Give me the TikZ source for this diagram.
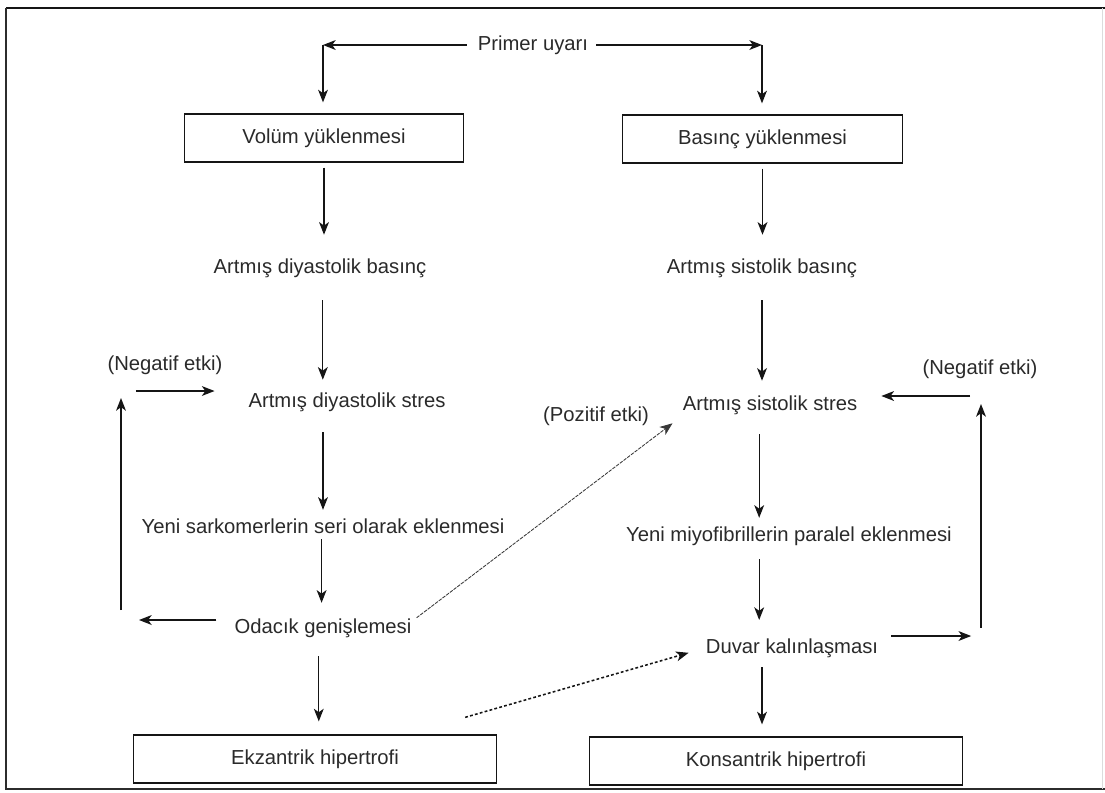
\documentclass[tikz,border=0pt]{standalone}
\usepackage{fontspec}
\setmainfont{Liberation Sans}
\usetikzlibrary{arrows.meta}
\definecolor{txt}{HTML}{2A2A2A}
\definecolor{ln}{HTML}{151515}
\begin{document}
\begin{tikzpicture}[x=0.025cm,y=-0.025cm,
  lbl/.style={inner sep=0pt, text height=10.5pt, text depth=3pt, text=txt,
    font=\fontsize{14.4}{17}\selectfont},
  boxnode/.style={lbl, draw=ln, line width=1.1pt, minimum height=34pt},
  arr/.style={draw=ln, line width=0.9pt,
    -{Stealth[length=9pt,width=7pt,inset=2.5pt]}},
  plainln/.style={draw=ln, line width=0.9pt},
  posarr/.style={draw=ln!85, line width=0.6pt, dash pattern=on 2.5pt off 0.8pt,
    -{Stealth[length=9pt,width=7pt,inset=2.5pt]}},
  dotarr/.style={draw=ln, line width=1.1pt, dash pattern=on 2pt off 1.6pt,
    -{Stealth[length=9pt,width=7pt,inset=2.5pt]}}
]
% page and frame
\fill[white] (0,0) rectangle (1105,792);
\useasboundingbox (0,0) rectangle (1105,792);
\draw[ln, line width=2pt] (6,8) -- (1105,8);
\draw[ln!90, line width=1.3pt] (6,8) -- (6,789) -- (1105,789);
\draw[ln!15, line width=0.5pt] (1102,8) -- (1102,789);

% nodes
\node[lbl] (prim) at (533,45) {Primer uyarı};
\node[boxnode, minimum width=198.4pt] (vol) at (324,138) {Volüm yüklenmesi};
\node[boxnode, minimum width=199.1pt] (bas) at (762.5,139) {Basınç yüklenmesi};
\node[lbl] (adb) at (320,268) {Artmış diyastolik basınç};
\node[lbl] (asb) at (762,268) {Artmış sistolik basınç};
\node[lbl] (ads) at (347,402) {Artmış diyastolik stres};
\node[lbl] (ass) at (770,405) {Artmış sistolik stres};
\node[lbl] (negL) at (165,365) {(Negatif etki)};
\node[lbl] (negR) at (980,369) {(Negatif etki)};
\node[lbl] (poz) at (596,416) {(Pozitif etki)};
\node[lbl] (yeniL) at (323,528) {Yeni sarkomerlerin seri olarak eklenmesi};
\node[lbl] (yeniR) at (789,536) {Yeni miyofibrillerin paralel eklenmesi};
\node[lbl] (oda) at (323,628) {Odacık genişlemesi};
\node[lbl] (duv) at (792,648) {Duvar kalınlaşması};
\node[boxnode, minimum width=258pt] (ekz) at (315,759) {Ekzantrik hipertrofi};
\node[boxnode, minimum width=265pt] (kon) at (776,761) {Konsantrik hipertrofi};

% corner points of the routed connectors
\coordinate (cL) at (323,45);
\coordinate (cR) at (762,45);
\coordinate (lBot) at (121,620);
\coordinate (lTop) at (121,391);
\coordinate (rBot) at (981,636);
\coordinate (rTop) at (981,396);

% primary stimulus split
\draw[arr, shorten <=7.8pt] (prim.west) -- (cL);
\draw[arr, shorten >=7.8pt] (cL) -- (cL |- vol.north);
\draw[arr, shorten <=5.7pt] (prim.east) -- (cR);
\draw[arr, shorten >=7.8pt] (cR) -- (cR |- bas.north);

% left column
\draw[arr, shorten <=3.5pt, shorten >=16.7pt] (vol.south) -- (vol.south |- adb.north);
\draw[arr, shorten <=16pt, shorten >=8.9pt] ([xshift=2]adb.south) -- ([xshift=2]adb.south |- ads.north);
\draw[arr, shorten <=14.5pt, shorten >=6pt] (ads.south -| yeniL.north) -- (yeniL.north);
\draw[arr, shorten <=1pt, shorten >=11pt] ([xshift=-1]yeniL.south) -- ([xshift=-1]yeniL.south |- oda.north);
\draw[arr, shorten <=13pt, shorten >=9.2pt] ([xshift=-3]oda.south) -- ([xshift=-3]oda.south |- ekz.north);

% left feedback loop
\draw[arr, shorten <=12.8pt, shorten >=12.8pt] (oda.west |- lBot) -- (lBot);
\draw[arr, shorten <=7pt, shorten >=5pt] (lBot) -- (lTop);
\draw[arr, shorten <=10.6pt, shorten >=24pt] (lTop) -- (ads.west |- lTop);

% right column
\draw[arr, shorten <=3.5pt, shorten >=16.7pt] (bas.south) -- (bas.south |- asb.north);
\draw[arr, shorten <=16pt, shorten >=10.3pt] (asb.south) -- (asb.south |- ass.north);
\draw[arr, shorten <=13.8pt, shorten >=6pt] ([xshift=-2]asb.south |- ass.south) -- ([xshift=-2]asb.south |- yeniR.north);
\draw[arr, shorten <=9.6pt, shorten >=13pt] ([xshift=-2]asb.south |- yeniR.south) -- ([xshift=-2]asb.south |- duv.north);
\draw[arr, shorten <=6.7pt, shorten >=8.5pt] (asb.south |- duv.south) -- (asb.south |- kon.north);

% right feedback loop
\draw[arr, shorten <=9.2pt, shorten >=7pt] (duv.east |- rBot) -- (rBot);
\draw[arr, shorten <=5.7pt, shorten >=5.7pt] (rBot) -- (rTop);
\draw[arr, shorten <=7.8pt, shorten >=17pt] (rTop) -- (ass.east |- rTop);

% cross links
\draw[posarr] ([shift={(5,-0.5)}]oda.north east) -- ([shift={(-10,8.5)}]ass.south west);
\draw[dotarr] ([shift={(-32,-17)}]ekz.north east) -- ([shift={(-17,-5)}]duv.south west);
\end{tikzpicture}
\end{document}
